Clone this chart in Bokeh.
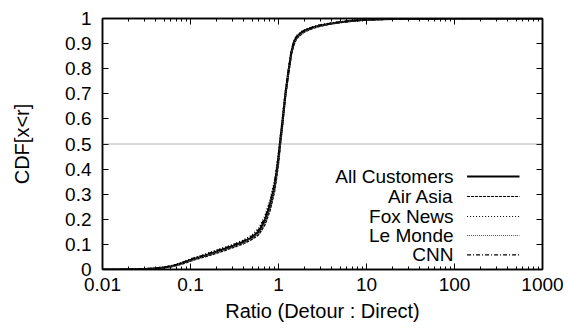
from bokeh.plotting import figure
from bokeh.models import (LogAxis, LinearAxis, FixedTicker, CustomJSTickFormatter,
                          Span)
from bokeh.core.properties import value
from bokeh.embed import file_html
from bokeh.resources import INLINE

# Ratio grid (Detour : Direct) at which the CDFs are sampled
ratio = [0.01, 0.015, 0.02, 0.03, 0.04, 0.05, 0.06, 0.07, 0.08, 0.1, 0.13, 0.16,
         0.2, 0.25, 0.3, 0.4, 0.5, 0.6, 0.7, 0.8, 0.9, 0.95, 1.0, 1.05, 1.1,
         1.15, 1.2, 1.3, 1.4, 1.5, 1.6, 1.8, 2.0, 2.5, 3.0, 4.0, 5.0, 7.0, 10,
         20, 50, 100, 1000]

cdf_all = [0.000, 0.000, 0.001, 0.002, 0.004, 0.008, 0.013, 0.019, 0.025, 0.038,
           0.050, 0.060, 0.072, 0.083, 0.093, 0.110, 0.128, 0.152, 0.195, 0.255,
           0.330, 0.385, 0.445, 0.515, 0.575, 0.640, 0.700, 0.790, 0.865, 0.905,
           0.925, 0.942, 0.952, 0.965, 0.972, 0.980, 0.985, 0.991, 0.995, 0.998,
           0.9995, 1.000, 1.000]
cdf_air_asia = [0.000, 0.000, 0.001, 0.002, 0.004, 0.007, 0.011, 0.017, 0.022, 0.034,
                0.046, 0.055, 0.066, 0.077, 0.087, 0.103, 0.120, 0.140, 0.178, 0.235,
                0.310, 0.365, 0.425, 0.498, 0.562, 0.628, 0.690, 0.782, 0.856, 0.897,
                0.919, 0.937, 0.948, 0.962, 0.970, 0.979, 0.984, 0.990, 0.995, 0.998,
                0.9995, 1.000, 1.000]
cdf_fox_news = [0.000, 0.000, 0.001, 0.003, 0.006, 0.010, 0.015, 0.021, 0.028, 0.042,
                0.055, 0.066, 0.078, 0.089, 0.099, 0.117, 0.137, 0.165, 0.212, 0.274,
                0.350, 0.404, 0.463, 0.531, 0.589, 0.652, 0.711, 0.799, 0.873, 0.912,
                0.931, 0.946, 0.956, 0.968, 0.975, 0.982, 0.987, 0.992, 0.996, 0.998,
                0.9995, 1.000, 1.000]
cdf_le_monde = [0.000, 0.000, 0.001, 0.002, 0.004, 0.008, 0.012, 0.018, 0.024, 0.036,
                0.048, 0.058, 0.069, 0.080, 0.090, 0.106, 0.124, 0.146, 0.186, 0.245,
                0.320, 0.376, 0.436, 0.507, 0.569, 0.635, 0.696, 0.786, 0.861, 0.902,
                0.922, 0.940, 0.950, 0.964, 0.971, 0.980, 0.985, 0.991, 0.995, 0.998,
                0.9995, 1.000, 1.000]
cdf_cnn = [0.000, 0.000, 0.001, 0.003, 0.005, 0.009, 0.014, 0.020, 0.027, 0.041,
           0.053, 0.064, 0.076, 0.087, 0.097, 0.114, 0.133, 0.160, 0.205, 0.266,
           0.342, 0.396, 0.455, 0.524, 0.583, 0.647, 0.706, 0.795, 0.869, 0.909,
           0.928, 0.945, 0.954, 0.967, 0.974, 0.981, 0.986, 0.992, 0.995, 0.998,
           0.9995, 1.000, 1.000]

series_names = ["All Customers", "Air Asia", "Fox News", "Le Monde", "CNN"]
series_values = [cdf_all, cdf_air_asia, cdf_fox_news, cdf_le_monde, cdf_cnn]

x_ticks = [0.01, 0.1, 1, 10, 100, 1000]
x_tick_labels = ["0.01", "0.1", "1", "10", "100", "1000"]
x_minor_ticks = [m * d for d in [0.01, 0.1, 1, 10, 100] for m in range(2, 10)]
y_ticks = [0, 0.1, 0.2, 0.3, 0.4, 0.5, 0.6, 0.7, 0.8, 0.9, 1.0]
y_tick_labels = ["0", "0.1", "0.2", "0.3", "0.4", "0.5", "0.6", "0.7", "0.8", "0.9", "1"]
median_level = 0.5

FONT = "Liberation Sans"

# line styles per series (gnuplot-like monochrome)
styles = [
    dict(line_width=2.2, line_dash="solid", line_color="black"),
    dict(line_width=1.6, line_dash="3 1", line_color="black"),
    dict(line_width=1.6, line_dash="1 2", line_color="black"),
    dict(line_width=1.6, line_dash="1 1", line_color="#555555"),
    dict(line_width=1.6, line_dash="4 2 1 2", line_color="black"),
]
key_widths = [2.0, 1.2, 1.2, 1.2, 1.2]


def label_formatter(tick_vals, tick_texts):
    return CustomJSTickFormatter(
        args=dict(tick_vals=tick_vals, tick_texts=tick_texts),
        code="""
        for (let i = 0; i < tick_vals.length; i++) {
            if (Math.abs(tick_vals[i] - tick) <= 1e-9 * Math.max(1, Math.abs(tick_vals[i])))
                return tick_texts[i];
        }
        return '';
        """)


p = figure(width=568, height=329, x_axis_type="log",
           x_range=(0.01, 1000), y_range=(0, 1),
           output_backend="svg", toolbar_location=None,
           min_border_left=102, min_border_right=26,
           min_border_top=18, min_border_bottom=60)
p.xgrid.visible = False
p.ygrid.visible = False
p.outline_line_color = "black"
p.outline_line_width = 1.5
p.background_fill_color = "white"
p.border_fill_color = "white"

# bottom / left axes
xa = p.xaxis[0]
xa.ticker = FixedTicker(ticks=x_ticks, minor_ticks=x_minor_ticks)
xa.formatter = label_formatter(x_ticks, x_tick_labels)
ya = p.yaxis[0]
ya.ticker = FixedTicker(ticks=y_ticks)
ya.formatter = label_formatter(y_ticks, y_tick_labels)
for ax in (xa, ya):
    ax.axis_line_color = "black"
    ax.axis_line_width = 1.5
    ax.major_tick_in = 6
    ax.major_tick_out = 0
    ax.minor_tick_in = 3
    ax.minor_tick_out = 0
    ax.major_tick_line_color = "black"
    ax.minor_tick_line_color = "black"
    ax.major_label_text_font = FONT
    ax.major_label_text_font_size = "19px"
    ax.major_label_text_color = "black"
    ax.axis_label_text_font = FONT
    ax.axis_label_text_font_size = "20px"
    ax.axis_label_text_font_style = "normal"
    ax.axis_label_text_color = "black"
ya.minor_tick_line_color = None
xa.axis_label = "Ratio (Detour : Direct)"
ya.axis_label = "CDF[x<r]"
xa.major_label_standoff = 8
xa.axis_label_standoff = 6
ya.major_label_standoff = 11
ya.axis_label_standoff = 29

# mirrored tick marks on top and right (labels kept tiny and invisible)
top = LogAxis(ticker=FixedTicker(ticks=x_ticks, minor_ticks=x_minor_ticks),
              formatter=label_formatter(x_ticks, x_tick_labels))
right = LinearAxis(ticker=FixedTicker(ticks=y_ticks),
                   formatter=label_formatter(y_ticks, y_tick_labels))
for ax in (top, right):
    ax.axis_line_color = "black"
    ax.axis_line_width = 1.5
    ax.major_tick_in = 6
    ax.major_tick_out = 0
    ax.minor_tick_in = 3
    ax.minor_tick_out = 0
    ax.major_label_standoff = 0
    ax.major_label_text_font_size = "1px"
    ax.major_label_text_color = None
    ax.major_tick_line_color = "black"
    ax.minor_tick_line_color = "black"
right.minor_tick_line_color = None
p.add_layout(top, "above")
p.add_layout(right, "right")

# median reference line
p.add_layout(Span(location=median_level, dimension="width",
                  line_color="#666666", line_width=1, line_dash="1 1"))

# CDF curves
for vals, st in zip(series_values, styles):
    p.line(ratio, vals, **st)

# key: right-aligned names followed by a line sample
key_y = [0.3705, 0.2908, 0.2112, 0.1355, 0.0586]
key_text_x = 97.5
key_line_x = [139, 548]
p.text(x=[key_text_x] * len(series_names), y=key_y, text=series_names,
       text_align="right", text_baseline="middle",
       text_font=value(FONT), text_font_size="19px", text_color="black")
for yk, st, kw in zip(key_y, styles, key_widths):
    p.line(key_line_x, [yk, yk], **dict(st, line_width=kw))

open("out.html", "w").write(file_html(p, INLINE))
